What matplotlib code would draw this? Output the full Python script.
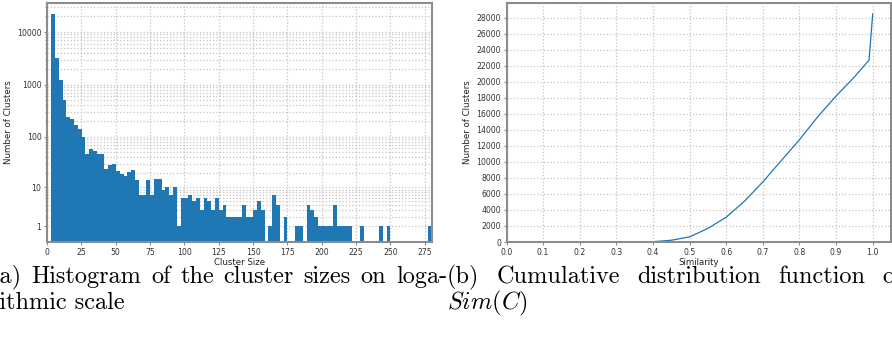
import numpy as np
import matplotlib
matplotlib.use("Agg")
import matplotlib.pyplot as plt
from matplotlib.ticker import FixedLocator, FuncFormatter

# ---------------- data ----------------
# histogram of cluster sizes (100 equal bins between size_min and size_max)
size_min = 3.0
size_max = 280.5
bin_counts = [22000, 3200, 1200, 500, 235, 220, 165, 140, 100, 47,
              58, 53, 46, 46, 24, 28, 29, 22, 19, 17,
              21, 23, 14, 7, 7, 14, 7, 15, 15, 9,
              10, 7, 10, 1, 6, 6, 7, 5, 6, 3,
              6, 5, 3, 6, 3, 4, 2, 2, 2, 2,
              4, 2, 2, 3, 5, 3, 0, 1, 7, 4,
              0, 2, 0, 0, 1, 1, 0, 4, 3, 2,
              1, 1, 1, 1, 4, 1, 1, 1, 1, 0,
              0, 1, 0, 0, 0, 0, 1, 0, 1, 0,
              0, 0, 0, 0, 0, 0, 0, 0, 0, 1]
hist_xticks = [0, 25, 50, 75, 100, 125, 150, 175, 200, 225, 250, 275]
hist_yticks = [1, 10, 100, 1000, 10000]

# cumulative distribution of Sim(C)
similarity = [0.0, 0.1, 0.2, 0.3, 0.35, 0.4, 0.45, 0.5, 0.55, 0.6, 0.65,
              0.7, 0.75, 0.8, 0.85, 0.9, 0.95, 0.99, 1.0]
cum_clusters = [0, 0, 0, 3, 10, 40, 220, 640, 1700, 3100, 5100,
                7500, 10140, 12770, 15640, 18220, 20600, 22700, 28450]
cdf_xticks = [0.0, 0.1, 0.2, 0.3, 0.4, 0.5, 0.6, 0.7, 0.8, 0.9, 1.0]
cdf_yticks = list(range(0, 28001, 2000))

caption_a1 = ["(a)", "Histogram", "of", "the", "cluster", "sizes", "on", "loga-"]
caption_a2 = "rithmic scale"
caption_b1 = ["(b)", "Cumulative", "distribution", "function", "of"]
caption_b2 = r"$Sim(C)$"

# ---------------- style ----------------
plt.rcParams['font.family'] = ['DejaVu Sans']
plt.rcParams['mathtext.fontset'] = 'cm'
BLUE = '#1f77b4'
SPINE = '#8c8c8c'
GRID = '#c4c4c4'
TICKC = '#333333'

W, H = 892, 342
fig = plt.figure(figsize=(W / 100, H / 100), dpi=100)

def px_rect(l, t, r, b):
    return [l / W, 1 - b / H, (r - l) / W, (b - t) / H]

ax1 = fig.add_axes(px_rect(47, 2.7, 432.3, 242))
ax2 = fig.add_axes(px_rect(506.5, 2.7, 891, 242))

def style(ax):
    for s in ax.spines.values():
        s.set_color(SPINE)
        s.set_linewidth(1.5)
    ax.tick_params(which='both', colors=SPINE, labelcolor=TICKC, labelsize=5.6,
                   length=2.5, width=0.8, pad=1.5)
    ax.set_axisbelow(True)

# ---- left: histogram ----
n_bins = len(bin_counts)
edges = np.linspace(size_min, size_max, n_bins + 1)
ax1.bar(edges[:-1], bin_counts, width=np.diff(edges), align='edge',
        color=BLUE, linewidth=0)

fwd = lambda y: np.sign(y) * np.log10(1 + np.abs(y))
inv = lambda t: np.sign(t) * (10 ** np.abs(t) - 1)
ax1.set_yscale('function', functions=(fwd, inv))
ax1.yaxis.set_major_locator(FixedLocator(hist_yticks))
ax1.yaxis.set_major_formatter(FuncFormatter(lambda v, p: f"{int(round(v))}"))
minors = [m * 10 ** d for d in range(0, 5) for m in range(2, 10)]
ax1.yaxis.set_minor_locator(FixedLocator(minors))
ax1.yaxis.set_minor_formatter(FuncFormatter(lambda v, p: ""))
ax1.set_xticks(hist_xticks)
ax1.set_xlim(0, size_max)
ax1.grid(True, which='major', axis='both', color=GRID, linestyle=':', linewidth=0.9)
ax1.grid(True, which='minor', axis='y', color=GRID, linestyle=':', linewidth=0.9)
style(ax1)
ax1.tick_params(which='minor', length=1.5)
ax1.set_xlabel("Cluster Size", fontsize=6.2, color='#222222', labelpad=1.0)
ax1.set_ylabel("Number of Clusters", fontsize=6.2, color='#222222', labelpad=3)

# ---- right: CDF ----
ax2.plot(similarity, cum_clusters, color=BLUE, linewidth=0.9)
ax2.set_xlim(left=0)
ax2.set_ylim(bottom=0)
ax2.set_xticks(cdf_xticks)
ax2.set_yticks(cdf_yticks)
ax2.xaxis.set_major_formatter(FuncFormatter(lambda v, p: f"{v:.1f}"))
ax2.grid(True, color=GRID, linestyle=':', linewidth=0.9)
style(ax2)
ax2.set_xlabel("Similarity", fontsize=6.2, color='#222222', labelpad=1.0)
ax2.set_ylabel("Number of Clusters", fontsize=6.2, color='#222222', labelpad=3)

# ---- captions (justified lines) ----
CAP_FS = 17.5
cap_kw = dict(fontsize=CAP_FS, family='cmr10', color='black', va='baseline', ha='left')
y1 = 1 - 283 / H
y2 = 1 - 309 / H
renderer = fig.canvas.get_renderer()

def justify(words, x0, x1, y):
    texts = [fig.text(0, y, w, **cap_kw) for w in words]
    widths = [t.get_window_extent(renderer).width for t in texts]
    gap = (x1 - x0 - sum(widths)) / max(len(words) - 1, 1)
    x = x0
    for t, w in zip(texts, widths):
        t.set_x(x / W)
        x += w + gap

justify(caption_a1, -9.5, 447, y1)
fig.text(-9.5 / W, y2, caption_a2, **cap_kw)
justify(caption_b1, 447, 902, y1)
fig.text(447 / W, y2, caption_b2, fontsize=CAP_FS, color='black', va='baseline', ha='left')

fig.savefig("out.png", dpi=100)
